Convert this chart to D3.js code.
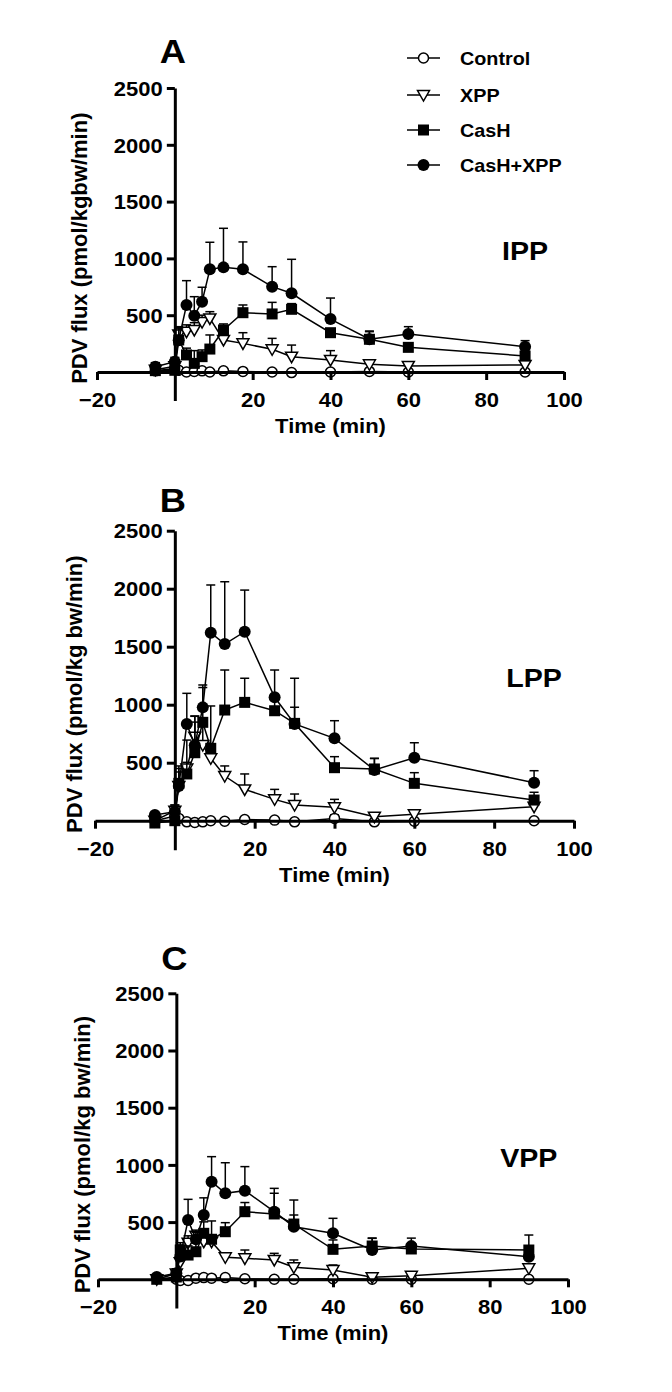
<!DOCTYPE html>
<html><head><meta charset="utf-8">
<script src="https://cdn.jsdelivr.net/npm/d3@7"></script>
<style>html,body{margin:0;padding:0;background:#fff;}svg{display:block;}</style>
</head><body>
<svg id="chart" width="672" height="1392"></svg>
<script>
// ---------- DATA ----------
const times = [-5, 0, 1, 3, 5, 7, 9, 12.5, 17.5, 25, 30, 40, 50, 60, 90];
const seriesNames = ["Control", "XPP", "CasH", "CasH+XPP"];
const xTickValues = [-20, 20, 40, 60, 80, 100];
const yTickValues = [500, 1000, 1500, 2000, 2500];
const panelLetters = ["A", "B", "C"];
const panelTitles = ["IPP", "LPP", "VPP"];
const yLabels = ["PDV flux (pmol/kgbw/min)", "PDV flux (pmol/kg bw/min)", "PDV flux (pmol/kg bw/min)"];
const xLabel = "Time (min)";

// Panel A: IPP
const ippControl     = [10, 30, 15, 0, 5, 10, 0, 10, 5, 0, -5, 0, 5, 0, 0];
const ippControlSem  = [10, 15, 10, 10, 10, 10, 10, 10, 10, 10, 10, 20, 10, 10, 10];
const ippXpp         = [20, 50, 330, 355, 370, 440, 472, 282, 252, 200, 135, 106, 68, 53, 62];
const ippXppSem      = [30, 40, 60, 60, 64, 60, 59, 70, 94, 96, 102, 82, 25, 30, 30];
const ippCash        = [12, 15, 282, 150, 76, 135, 202, 370, 522, 511, 552, 346, 288, 217, 141];
const ippCashSem     = [70, 30, 117, 60, 112, 59, 124, 53, 68, 102, 50, 30, 67, 30, 40];
const ippCashXpp     = [47, 91, 280, 590, 496, 619, 904, 921, 904, 751, 693, 466, 288, 334, 223];
const ippCashXppSem  = [35, 38, 100, 214, 167, 127, 238, 344, 241, 176, 299, 185, 73, 65, 53];

// Panel B: LPP
const lppControl     = [0, 40, 20, -10, -15, -10, 0, -5, 10, 5, -10, 20, -10, -5, 0];
const lppControlSem  = [10, 15, 10, 10, 10, 10, 10, 10, 10, 10, 10, 30, 10, 10, 10];
const lppXpp         = [0, 86, 300, 450, 724, 652, 538, 385, 270, 184, 135, 115, 35, 55, 121];
const lppXppSem      = [20, 49, 150, 245, 176, 200, 80, 87, 133, 86, 95, 69, 20, 20, 30];
const lppCash        = [-20, 0, 322, 403, 586, 848, 624, 954, 1020, 948, 839, 457, 446, 322, 178];
const lppCashSem     = [20, 20, 150, 100, 317, 300, 365, 345, 208, 136, 139, 95, 90, 92, 67];
const lppCashXpp     = [49, 78, 300, 834, 650, 977, 1621, 1523, 1629, 1064, 834, 710, 437, 543, 328];
const lppCashXppSem  = [20, 57, 120, 264, 200, 193, 411, 537, 359, 235, 394, 152, 101, 129, 103];

// Panel C: VPP
const vppControl     = [10, 0, -10, -10, 10, 15, 10, 15, 5, 0, 0, 5, 0, 0, 0];
const vppControlSem  = [10, 10, 10, 10, 10, 10, 10, 10, 10, 10, 10, 20, 10, 10, 10];
const vppXpp         = [0, 50, 150, 320, 380, 329, 329, 192, 183, 169, 105, 81, 17, 30, 96];
const vppXppSem      = [10, 40, 100, 60, 50, 60, 60, 35, 73, 58, 64, 44, 20, 20, 30];
const vppCash        = [0, 20, 256, 212, 241, 402, 350, 416, 591, 571, 483, 262, 291, 265, 256];
const vppCashSem     = [20, 30, 64, 80, 120, 100, 160, 79, 80, 181, 79, 82, 67, 50, 131];
const vppCashXpp     = [20, 52, 200, 518, 350, 562, 853, 752, 775, 591, 460, 402, 256, 290, 198];
const vppCashXppSem  = [15, 40, 100, 181, 60, 150, 219, 267, 210, 204, 233, 131, 105, 70, 60];

const panelSeries = [
  [[ippControl, ippControlSem], [ippXpp, ippXppSem], [ippCash, ippCashSem], [ippCashXpp, ippCashXppSem]],
  [[lppControl, lppControlSem], [lppXpp, lppXppSem], [lppCash, lppCashSem], [lppCashXpp, lppCashXppSem]],
  [[vppControl, vppControlSem], [vppXpp, vppXppSem], [vppCash, vppCashSem], [vppCashXpp, vppCashXppSem]]
];

// ---------- LAYOUT ----------
const layouts = [
  {xr: [97, 564], y0: 372,   k: 0.1136, ylx: 79},
  {xr: [95, 574], y0: 820.7, k: 0.116,  ylx: 74},
  {xr: [98, 568], y0: 1279.3,k: 0.1144, ylx: 82}
];
const FONT = "'Liberation Sans', Arial, Helvetica, sans-serif";
const SX = 1.1;
const svg = d3.select("#chart");
svg.append("rect").attr("width", 672).attr("height", 1392).attr("fill", "#fff");

function sym(g, type, x, y) {
  if (type === 0) {
    g.append("circle").attr("cx", x).attr("cy", y).attr("r", 5)
      .attr("fill", "#fff").attr("stroke", "#000").attr("stroke-width", 1.5);
  } else if (type === 1) {
    const w = 6, h = 10;
    g.append("path").attr("d", `M${x - w},${y - h / 2 + 0.5}L${x + w},${y - h / 2 + 0.5}L${x},${y + h / 2 + 1}Z`)
      .attr("fill", "#fff").attr("stroke", "#000").attr("stroke-width", 1.5).attr("stroke-linejoin", "miter");
  } else if (type === 2) {
    g.append("rect").attr("x", x - 5.5).attr("y", y - 5.5).attr("width", 11).attr("height", 11).attr("fill", "#000");
  } else {
    g.append("circle").attr("cx", x).attr("cy", y).attr("r", 6).attr("fill", "#000");
  }
}

function stretchedText(g, str, x, y, size, anchor) {
  return g.append("text")
    .attr("transform", `translate(${x},${y}) scale(${SX},1)`)
    .attr("text-anchor", anchor || "start")
    .attr("font-family", FONT).attr("font-weight", "bold")
    .attr("font-size", size).attr("fill", "#000").text(str);
}

layouts.forEach((L, pi) => {
  const x = d3.scaleLinear().domain([-20, 100]).range(L.xr);
  const y = d3.scaleLinear().domain([-250, 2500]).range([L.y0 + 250 * L.k, L.y0 - 2500 * L.k]);
  const g = svg.append("g");

  // series
  const lineGen = d3.line().x(d => x(d[0])).y(d => y(d[1]));
  panelSeries[pi].forEach((s, si) => {
    const vals = s[0], sem = s[1];
    const pts = times.map((t, i) => [t, vals[i], sem[i]]);
    const sg = g.append("g");
    // error bars (upper)
    pts.forEach(p => {
      const xx = x(p[0]), yt = y(p[1] + p[2]), yv = y(p[1]);
      sg.append("line").attr("x1", xx).attr("x2", xx).attr("y1", yv).attr("y2", yt)
        .attr("stroke", "#000").attr("stroke-width", 1.5);
      sg.append("line").attr("x1", xx - 4.5).attr("x2", xx + 4.5).attr("y1", yt).attr("y2", yt)
        .attr("stroke", "#000").attr("stroke-width", 1.5);
    });
    sg.append("path").datum(pts).attr("d", lineGen).attr("fill", "none")
      .attr("stroke", "#000").attr("stroke-width", 1.5);
    pts.forEach(p => sym(sg, si, x(p[0]), y(p[1])));
  });

  // axes
  const yAxis = d3.axisLeft(y).tickValues(yTickValues).tickSize(8).tickSizeOuter(0).tickPadding(3).tickFormat(d3.format("d"));
  const xAxis = d3.axisBottom(x).tickValues(xTickValues).tickSize(8).tickSizeOuter(0).tickFormat(d3.format("d"));
  const ya = g.append("g").attr("transform", `translate(${x(0)},0)`).call(yAxis);
  const xa = g.append("g").attr("transform", `translate(0,${y(0)})`).call(xAxis);
  [ya, xa].forEach(a => {
    a.select(".domain").attr("stroke", "#000").attr("stroke-width", 3);
    a.selectAll(".tick line").attr("stroke", "#000").attr("stroke-width", 3);
    a.selectAll(".tick text").attr("font-family", FONT).attr("font-weight", "bold")
      .attr("font-size", 20).attr("fill", "#000");
  });
  ya.selectAll(".tick text").attr("x", -11).attr("dy", "0.36em").attr("transform", `scale(${SX},1)`);
  xa.selectAll(".tick text").attr("y", 35).attr("dy", null).attr("transform", `scale(${SX},1)`);

  // labels
  stretchedText(g, xLabel, (x(-20) + x(100)) / 2, y(0) + 61, 20, "middle");
  g.append("text").attr("transform", `translate(${L.ylx + 8},${(y(-250) + y(2500)) / 2 + 4}) rotate(-90)`)
    .attr("text-anchor", "middle").attr("font-family", FONT).attr("font-weight", "bold")
    .attr("font-size", 22).attr("fill", "#000").text(yLabels[pi]);
  stretchedText(g, panelLetters[pi], x(0) - 2, y(0) - 309, 33, "middle");
  stretchedText(g, panelTitles[pi], x(90), y(0) - (pi === 1 ? 134 : 112), 26, "middle");

  // legend in panel A
  if (pi === 0) {
    const rows = [58, 95, 130, 165];
    seriesNames.forEach((n, si) => {
      const lg = g.append("g");
      lg.append("line").attr("x1", 407).attr("x2", 440).attr("y1", rows[si]).attr("y2", rows[si])
        .attr("stroke", "#000").attr("stroke-width", 1.5);
      sym(lg, si, 423.5, rows[si]);
      stretchedText(lg, n, 460, rows[si] + 7, 18, "start");
    });
  }
});
</script>
</body></html>
